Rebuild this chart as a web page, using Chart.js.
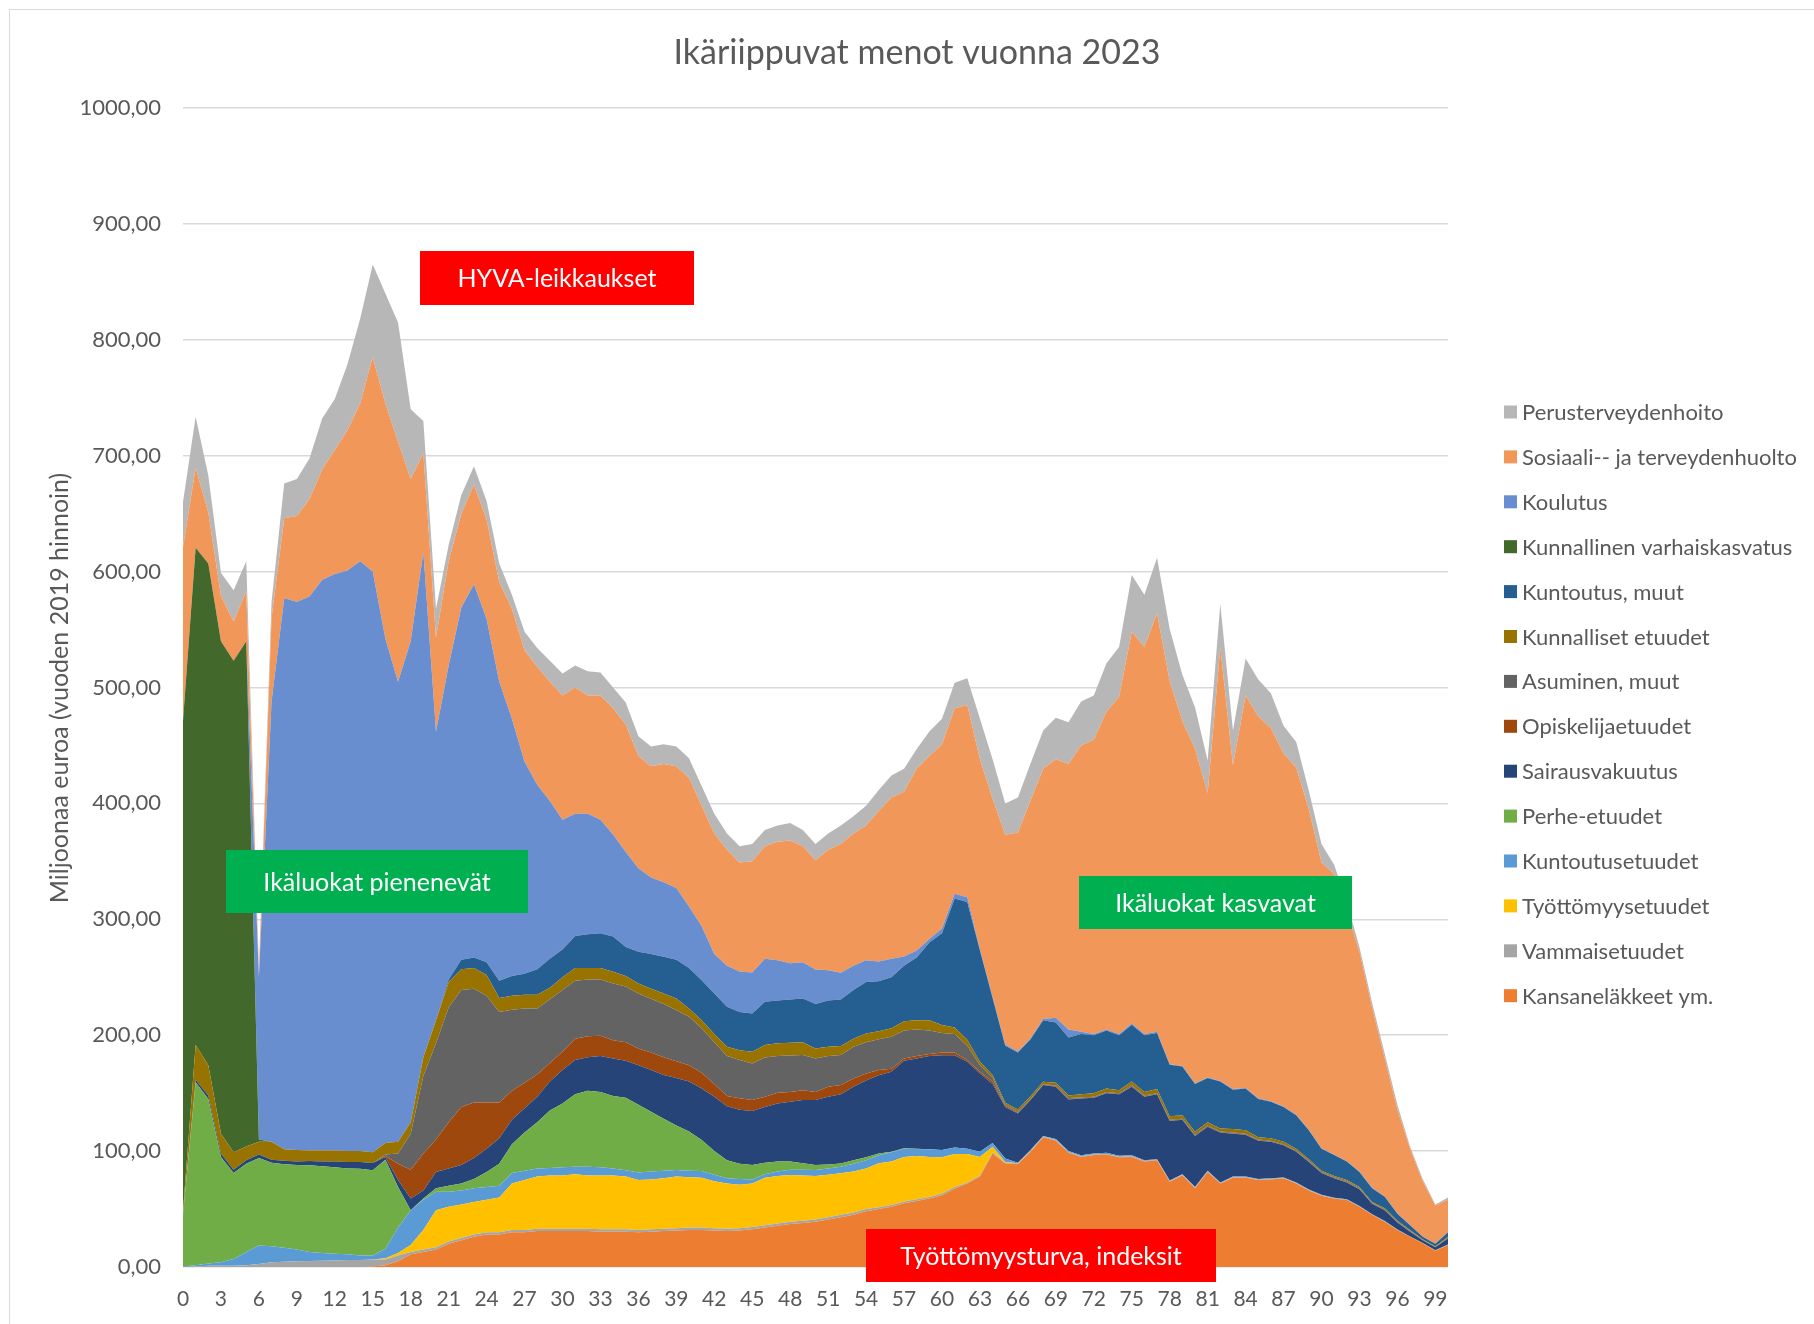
<!DOCTYPE html>
<html lang="fi">
<head>
<meta charset="utf-8">
<title>Ikäriippuvat menot vuonna 2023</title>
<script src="https://cdn.jsdelivr.net/npm/chart.js@4/dist/chart.umd.min.js"></script>
<style>
    html, body { margin: 0; padding: 0; background: #fff; }
    #chart { display: block; }
</style>
</head>
<body>
<canvas id="chart" width="1814" height="1324"></canvas>
<script>
// ikä 0..100
const ages = Array.from({length: 101}, (_, i) => String(i));

// sarjat alimmasta ylimpään (milj. euroa)
const kansanelakkeet = [
    0, 0, 0, 0, 0, 0, 0, 0, 0, 0,
    0, 0, 0, 0, 0, 0.5, 1.5, 5, 11, 13,
    15, 20, 23, 26, 28, 28, 30, 30, 31, 31,
    31, 31, 31, 30.5, 30.5, 30.5, 30, 30.5, 31, 31.5,
    32, 32, 31.5, 31, 31.5, 32.5, 34, 35.5, 37, 38,
    39, 41, 43, 45, 48, 50, 52, 55, 57, 59,
    62, 67.8, 72, 78, 98, 89.4, 88.8, 99.5, 112, 109,
    98.6, 95, 96.6, 97, 94.6, 95, 91, 92, 73.6, 79,
    68, 82, 72, 77, 77, 75, 75.6, 76.5, 72, 66,
    61.5, 59, 57.8, 52, 45, 39, 32, 26, 20.4, 14,
    19
];
const vammaisetuudet = [
    0, 0.5, 1, 1, 1, 1.5, 2.5, 4, 4.6, 5,
    5.2, 5.5, 5.7, 6, 6, 6, 5, 5, 2, 2,
    2, 2, 2, 2, 2, 2, 2, 2, 2, 2,
    2, 2, 2, 2, 2, 2, 2, 2, 2, 2,
    2, 2, 2, 2, 2, 2, 2, 2, 2, 2,
    2, 2, 2, 2, 2, 1.5, 1.5, 1.5, 1.5, 1.5,
    1.5, 1.2, 1, 1, 1, 0.6, 0.6, 0.6, 0.6, 0.6,
    0.6, 0.6, 0.6, 0.6, 0.6, 0.6, 0.5, 0.5, 0.5, 0.5,
    0.5, 0.5, 0.5, 0.5, 0.5, 0.5, 0.4, 0.4, 0.4, 0.4,
    0.4, 0.4, 0.3, 0.3, 0.3, 0.3, 0.2, 0.2, 0.2, 0.2,
    0.2
];
const tyottomyysetuudet = [
    0, 0, 0, 0, 0, 0, 0, 0, 0, 0,
    0, 0, 0, 0, 0, 0, 1, 2, 6, 17,
    32, 30, 29, 28, 28, 30, 40, 43, 45, 46,
    46, 47, 46, 46.5, 46.5, 45.5, 43, 43, 43.5, 44.5,
    43.5, 43, 40.5, 39, 37.5, 37.5, 41, 41, 40.3, 39,
    37.5, 36.5, 35.8, 35.5, 35, 38, 37.5, 38.5, 37.2, 34.5,
    31.1, 28.4, 24.4, 16, 4.8, 0.5, 0.2, 0.2, 0, 0,
    0, 0, 0, 0, 0, 0, 0, 0, 0, 0,
    0, 0, 0, 0, 0, 0, 0, 0, 0, 0,
    0, 0, 0, 0, 0, 0, 0, 0, 0, 0,
    0
];
const kuntoutusetuudet = [
    0.5, 1, 2, 3, 6, 11.5, 16, 14, 12, 10,
    7.8, 6.5, 5.8, 5, 4, 3.5, 8.3, 22, 30, 26,
    16, 13, 12, 12, 11, 10, 9, 8, 7, 6.5,
    7, 6.5, 7.5, 7, 6, 5.5, 6.6, 7, 6.5, 5.6,
    5.5, 5.8, 5.5, 4.5, 5, 3.6, 3, 4, 4.7, 5,
    5.1, 5.5, 5.7, 6.5, 7, 7, 7.9, 7, 6.1, 6.5,
    6.4, 5.6, 4.6, 4.5, 3.2, 3.2, 0.4, 0.7, 0.4, 0.9,
    0.8, 0.9, 0.8, 0.9, 0.8, 0.9, 0.5, 0.5, 0.5, 0.5,
    0.5, 0.5, 0.5, 0.5, 0.5, 0.5, 0.5, 0.4, 0.4, 0.4,
    0.4, 0.3, 0.3, 0.3, 0.3, 0.3, 0.2, 0.2, 0.2, 0.2,
    0.2
];
const perheEtuudet = [
    45, 158, 142, 91, 74, 76, 75.5, 72, 72, 73,
    74.7, 75, 74.5, 74, 74.8, 73.4, 76.7, 35, 0, 1,
    3, 5, 6, 8, 13, 19, 25, 33, 40, 49.5,
    55, 62.5, 65.5, 65, 62.5, 62.5, 58.4, 51.5, 45, 38.4,
    34, 26.7, 20.5, 15.5, 13, 12.4, 10, 8.5, 7, 5.5,
    4.4, 3.5, 2.9, 3, 2.6, 1.5, 0.6, 0.5, 0.2, 0,
    0, 0, 0, 0, 0, 0, 0, 0, 0, 0,
    0, 0, 0, 0, 0, 0, 0, 0, 0, 0,
    0, 0, 0, 0, 0, 0, 0, 0, 0, 0,
    0, 0, 0, 0, 0, 0, 0, 0, 0, 0,
    0
];
const sairausvakuutus = [
    0.5, 2, 3, 3, 3, 3, 3, 2.6, 3, 3,
    3.7, 4, 5, 5.5, 5.7, 6.3, 2.5, 6, 10, 7,
    14, 15, 16, 18, 20, 22, 21, 21, 22, 25,
    29, 29.5, 29, 31, 32.5, 32, 34, 36, 37.6, 41,
    43, 44.5, 47, 46.6, 46.7, 46.5, 48, 50, 51.6, 54.5,
    56, 58.5, 59.6, 63.5, 66.4, 67.5, 68.9, 75.5, 78, 80.5,
    81.8, 79.8, 75, 67.5, 51, 44.3, 42.5, 43, 44, 45,
    44.6, 48.9, 48, 51.5, 53, 59, 55, 56, 51.4, 47,
    44, 38, 43, 37, 36, 33, 31.5, 27.7, 26.7, 23.7,
    18.7, 16.8, 14.6, 14.4, 8.9, 9.4, 6.1, 4.1, 2.2, 2.6,
    5.1
];
const opiskelijaetuudet = [
    0, 0, 0, 0, 0, 0, 0, 0, 0, 0,
    0, 0, 0, 0, 0, 0, 1, 14, 25, 32,
    28, 40, 50, 48, 40, 31, 25, 22, 19, 16,
    16, 18.5, 18, 17.5, 15.7, 16, 14.6, 15, 15.4, 14.5,
    14, 13.6, 11, 8.9, 9.8, 9.5, 9, 9.4, 8.4, 8.6,
    7, 8.5, 8, 7.2, 6, 4.5, 2.6, 2, 2, 1.7,
    2.2, 2.2, 1.5, 1.4, 2, 1, 0.5, 0.4, 0.4, 0.4,
    0.4, 0.3, 0.3, 0.3, 0.3, 0.5, 0.3, 0.3, 0.3, 0.3,
    0.3, 0.3, 0.3, 0.3, 0.3, 0.3, 0.3, 0.3, 0.3, 0.3,
    0.3, 0.3, 0.3, 0.3, 0.2, 0.2, 0.2, 0.2, 0.2, 0.2,
    0.2
];
const asuminenMuut = [
    0, 0, 0, 0, 0, 0, 0, 0, 0, 0,
    0, 0, 0, 0, 0, 0, 1, 9, 31, 67,
    83, 99, 101, 98, 92, 78, 70, 64, 57, 55,
    53, 50, 49, 48.5, 49, 48, 47.4, 46.5, 46, 44,
    42, 38.4, 36, 34.5, 33, 31.6, 33.8, 31.6, 31.5, 30.4,
    29, 26.5, 26, 27.3, 27, 26.5, 27.6, 24, 23, 20.3,
    17, 16, 12.5, 5.6, 3, 1, 1, 0.6, 0.5, 0.6,
    0.8, 0.6, 0.7, 0.7, 0.7, 1, 0.7, 0.7, 0.7, 0.7,
    0.7, 0.7, 0.7, 0.7, 0.7, 0.7, 0.7, 0.7, 0.7, 0.7,
    0.7, 0.7, 0.7, 0.7, 0.5, 0.5, 0.5, 0.5, 0.3, 0.3,
    0.3
];
const kunnallisetEtuudet = [
    2, 30, 26, 17, 15, 12, 11, 15.4, 10, 10,
    9.2, 9.5, 9.6, 9.5, 9.5, 9.3, 10, 10, 10, 16,
    20, 22, 18, 18, 18, 12, 12, 12, 12, 10,
    11, 11, 10, 10, 10, 9, 8.6, 8.5, 9, 10.2,
    7, 7, 7, 8, 8.5, 10.1, 10.8, 11, 11, 11,
    8.6, 8, 7.6, 7, 7.5, 7, 7.4, 8, 8, 9,
    6.7, 5.7, 5, 3, 2.6, 1.7, 2, 2.4, 2, 2.5,
    2.2, 2.7, 3, 3, 2.6, 3, 3, 3.5, 3, 3,
    2.7, 3, 2.6, 3, 3, 2, 2, 2, 1.5, 1.5,
    1, 1, 1, 1, 0.8, 0.9, 0.8, 0.8, 0.5, 0.5,
    1
];
const kuntoutusMuut = [
    0, 0, 0, 0, 0, 0, 0, 0, 0, 0,
    0, 0, 0, 0, 0, 0, 0, 0, 0, 0,
    0, 2, 8, 9, 11, 15, 17, 18, 22, 25,
    24, 27.5, 29, 30, 30.4, 25, 27.4, 30, 31.6, 33.3,
    35, 34.5, 35, 34.5, 33, 33, 37.2, 37, 37.2, 37.7,
    38.4, 40, 40.2, 42, 44.5, 43, 44, 48, 54, 67,
    79.3, 111.3, 119, 96, 66.4, 49.3, 49, 49, 53, 52,
    50, 52, 50, 50, 47.4, 49, 49, 48.5, 44.4, 42,
    41.3, 38, 40.4, 34, 36, 33, 31.6, 30, 29, 25,
    19, 18.1, 16, 13, 12, 10, 6, 4, 2, 2,
    4
];
const varhaiskasvatus = [
    423, 429, 433, 425, 424, 436, 2, 0, 0, 0,
    0, 0, 0, 0, 0, 0, 0, 0, 0, 0,
    0, 0, 0, 0, 0, 0, 0, 0, 0, 0,
    0, 0, 0, 0, 0, 0, 0, 0, 0, 0,
    0, 0, 0, 0, 0, 0, 0, 0, 0, 0,
    0, 0, 0, 0, 0, 0, 0, 0, 0, 0,
    0, 0, 0, 0, 0, 0, 0, 0, 0, 0,
    0, 0, 0, 0, 0, 0, 0, 0, 0, 0,
    0, 0, 0, 0, 0, 0, 0, 0, 0, 0,
    0, 0, 0, 0, 0, 0, 0, 0, 0, 0,
    0
];
const koulutus = [
    0, 0, 0, 0, 0, 0, 140, 380, 475.5, 473,
    478, 492.5, 497.4, 501, 509, 501, 435, 397, 415, 436,
    249, 271, 304, 322, 296, 258, 222, 183, 159, 136,
    112, 105.5, 104, 98, 88, 82, 72, 66, 64.4, 62,
    53, 46.5, 34, 35.5, 35, 35.3, 37.2, 34.7, 31.3, 31.3,
    29.7, 26, 23, 21, 18.7, 17, 16, 8, 6, 3,
    4, 4, 4, 1, 1, 1, 1, 1, 1, 4,
    7, 2, 1, 1, 1, 1, 1, 1, 0.5, 0.5,
    0.5, 0.5, 0.5, 0.5, 0.5, 0.5, 0.4, 0.4, 0.4, 0.4,
    0.4, 0.3, 0.3, 0.3, 0.3, 0.3, 0.2, 0.2, 0.2, 0.2,
    0.2
];
const sosiaaliJaTerveys = [
    150, 69, 44, 39, 34, 43, 5, 72, 69, 74,
    84, 95, 107, 121, 136, 185, 203, 207, 140, 85,
    81, 90, 81, 86, 86, 86, 95, 96, 102, 103,
    107, 109, 102, 107, 109, 110, 97, 96, 102, 105,
    111, 104, 104, 100, 94, 96, 97, 102.3, 106, 100,
    94.3, 104, 111.2, 114, 116.3, 130, 139, 142, 157, 158,
    159, 160, 166, 164, 171, 181, 189, 205, 216, 223,
    229, 247, 254, 274, 291, 338, 334, 361, 330.6, 297.5,
    288.5, 245.5, 374.5, 279.5, 338.5, 329.5, 322, 304.6, 299.6, 276.6,
    246.6, 242.1, 215.7, 189.7, 155.7, 119.1, 89.8, 65.8, 47.8, 32.8,
    27.8
];
const perusterveydenhoito = [
    39, 44, 32, 20, 27, 26, 3, 14, 30, 32,
    35, 44, 44, 57, 73, 80, 95, 103, 60, 28,
    25, 14, 16, 16, 16, 16, 12, 16, 16, 18,
    19, 19, 21, 20, 18, 19, 17, 17, 17, 17,
    17, 17, 17, 14, 14, 15, 14, 14, 15, 14,
    14, 14, 16, 15, 17, 18, 19, 20, 17, 21,
    22, 22, 23, 35, 34, 27, 30, 32, 33, 36,
    36, 38, 38, 42, 43, 49, 45, 48, 45, 40,
    36, 28, 37, 30, 32, 32, 30, 24, 22, 16,
    16, 8, 8, 4, 4, 4, 4, 2, 2, 1,
    2
];

const seriesLabels = [
    'Kansaneläkkeet ym.', 'Vammaisetuudet', 'Työttömyysetuudet', 'Kuntoutusetuudet',
    'Perhe-etuudet', 'Sairausvakuutus', 'Opiskelijaetuudet', 'Asuminen, muut',
    'Kunnalliset etuudet', 'Kuntoutus, muut', 'Kunnallinen varhaiskasvatus', 'Koulutus',
    'Sosiaali-- ja terveydenhuolto', 'Perusterveydenhoito'
];
const seriesData = [
    kansanelakkeet, vammaisetuudet, tyottomyysetuudet, kuntoutusetuudet,
    perheEtuudet, sairausvakuutus, opiskelijaetuudet, asuminenMuut,
    kunnallisetEtuudet, kuntoutusMuut, varhaiskasvatus, koulutus,
    sosiaaliJaTerveys, perusterveydenhoito
];
const seriesColors = [
    '#ED7D31', '#A5A5A5', '#FFC000', '#5B9BD5',
    '#70AD47', '#264478', '#9E480E', '#636363',
    '#997300', '#255E91', '#43682B', '#698ED0',
    '#F1975A', '#B7B7B7'
];

const FONT = 'Lato, "Open Sans", sans-serif';
const TEXT_COLOR = '#595959';

const notes = [
    {text: 'HYVA-leikkaukset', x: 420, y: 251, w: 274, h: 54, color: '#FF0000'},
    {text: 'Ikäluokat pienenevät', x: 226, y: 850, w: 302, h: 63, color: '#00B050'},
    {text: 'Ikäluokat kasvavat', x: 1079, y: 876, w: 273, h: 53, color: '#00B050'},
    {text: 'Työttömyysturva, indeksit', x: 866, y: 1229, w: 350, h: 53, color: '#FF0000'}
];

const overlay = {
    id: 'overlay',
    afterDraw(chart) {
        const ctx = chart.ctx;
        ctx.save();

        // kaavion reunus
        ctx.strokeStyle = '#D9D9D9';
        ctx.lineWidth = 1;
        ctx.strokeRect(9.5, 9.5, 1820, 1330);

        // otsikko
        ctx.fillStyle = TEXT_COLOR;
        ctx.font = '34px ' + FONT;
        ctx.textAlign = 'center';
        ctx.textBaseline = 'middle';
        ctx.fillText('Ikäriippuvat menot vuonna 2023', 917, 53);

        // y-akselin otsikko
        ctx.save();
        ctx.translate(60, 688);
        ctx.rotate(-Math.PI / 2);
        ctx.font = '25px ' + FONT;
        ctx.fillText('Miljoonaa euroa (vuoden 2019 hinnoin)', 0, 0);
        ctx.restore();

        // selite, ylin sarja ensin
        ctx.font = '22px ' + FONT;
        ctx.textAlign = 'left';
        for (let i = seriesLabels.length - 1; i >= 0; i--) {
            const y = 412 + (seriesLabels.length - 1 - i) * 44.9;
            ctx.fillStyle = seriesColors[i];
            ctx.fillRect(1504, y - 6.5, 13, 13);
            ctx.fillStyle = TEXT_COLOR;
            ctx.fillText(seriesLabels[i], 1522, y + 1);
        }

        // huomautuslaatikot
        ctx.font = '25px ' + FONT;
        ctx.textAlign = 'center';
        notes.forEach(n => {
            ctx.fillStyle = n.color;
            ctx.fillRect(n.x, n.y, n.w, n.h);
            ctx.fillStyle = '#FFFFFF';
            ctx.fillText(n.text, n.x + n.w / 2, n.y + n.h / 2 + 1);
        });

        ctx.restore();
    }
};

new Chart(document.getElementById('chart'), {
    type: 'line',
    data: {
        labels: ages,
        datasets: seriesData.map((d, i) => ({
            label: seriesLabels[i],
            data: d,
            backgroundColor: seriesColors[i],
            borderColor: seriesColors[i],
            borderWidth: 0,
            pointRadius: 0,
            tension: 0,
            fill: i === 0 ? 'origin' : '-1'
        }))
    },
    options: {
        responsive: false,
        animation: false,
        layout: {padding: {top: 108, right: 366, bottom: 0, left: 0}},
        plugins: {
            legend: {display: false},
            title: {display: false},
            tooltip: {enabled: false}
        },
        scales: {
            x: {
                offset: false,
                grid: {display: false, drawTicks: false},
                border: {display: false},
                ticks: {
                    autoSkip: false,
                    maxRotation: 0,
                    padding: 20,
                    color: TEXT_COLOR,
                    font: {family: FONT, size: 21},
                    callback: (value, index) => index % 3 === 0 ? ages[index] : null
                },
                afterFit: scale => { scale.height = 57; }
            },
            y: {
                stacked: true,
                min: 0,
                max: 1000,
                grid: {color: '#D9D9D9', lineWidth: 1.5, drawTicks: false},
                border: {display: false},
                ticks: {
                    stepSize: 100,
                    padding: 22,
                    color: TEXT_COLOR,
                    font: {family: FONT, size: 22},
                    callback: value => value.toFixed(2).replace('.', ',')
                },
                afterFit: scale => { scale.width = 183; }
            }
        }
    },
    plugins: [overlay]
});
</script>
</body>
</html>
